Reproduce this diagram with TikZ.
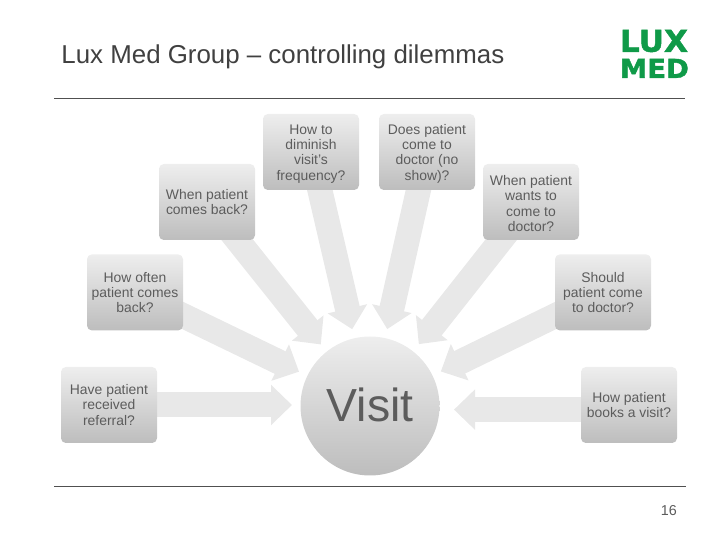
\documentclass[tikz,border=0pt]{standalone}
\usepackage{fontspec}
\setmainfont{Liberation Sans}
\newfontfamily\logofont[FakeBold=1.5]{DejaVu Sans Bold}
\usepackage{xcolor}
\usetikzlibrary{arrows.meta, backgrounds}
\definecolor{rule-gray}{HTML}{505050}
\definecolor{label-gray}{HTML}{5C5C5C}
\definecolor{title-gray}{HTML}{404040}
\definecolor{arrow-gray}{HTML}{E8E8E8}
\definecolor{shade-top}{HTML}{EEEEEE}
\definecolor{shade-bottom}{HTML}{BDBDBD}
\definecolor{logo-green}{HTML}{0F9A48}
\newcommand{\firstline}{\rule{0pt}{9.5pt}}
\pgfdeclareverticalshading{visitfade}{100bp}{color(0bp)=(shade-bottom); color(25bp)=(shade-bottom); color(75bp)=(shade-top); color(100bp)=(shade-top)}
\tikzset{
  questionbox/.style={rectangle, rounded corners=0.12cm, minimum width=2.4cm, minimum height=1.9cm,
    inner sep=0pt, top color=shade-top, bottom color=shade-bottom, text=label-gray, align=center,
    font=\fontsize{9.9}{10.9}\selectfont},
  blockarrow/.style={draw=arrow-gray, line width=0.625cm, -{Triangle[width=0.98cm,length=0.525cm]}, shorten >=1.97cm}
}

\begin{document}
\begin{tikzpicture}
  \useasboundingbox (0,0) rectangle (18,13.5);
  \node[anchor=west, color=title-gray, inner sep=0pt, font=\fontsize{18.4}{20}\selectfont] (title) at (1.53,12.07) {Lux Med Group – controlling dilemmas};
  \node[text=logo-green, inner sep=0pt, font=\logofont] (lux) at (16.35,12.475) {\resizebox{1.7cm}{0.55cm}{LUX}};
  \node[text=logo-green, inner sep=0pt, font=\logofont] (med) at (16.36,11.79) {\resizebox{1.725cm}{0.475cm}{MED}};
  % rules
  \coordinate (topleft) at (1.35,11.03);
  \coordinate (topright) at (17.13,11.03);
  \coordinate (botleft) at (1.35,1.35);
  \coordinate (botright) at (17.15,1.35);
  \draw[color=rule-gray, line width=0.6pt] (topleft) -- (topright);
  \draw[color=rule-gray, line width=0.6pt] (botleft) -- (botright);
  % questions
  \node[questionbox] (whenback) at (5.175,8.45) {When patient\\comes back?};
  \node[questionbox] (diminish) at (7.775,9.7) {\firstline How to\\diminish\\visit's\\frequency?};
  \node[questionbox] (noshow) at (10.675,9.7) {\firstline Does patient\\come to\\doctor (no\\show)?};
  \node[questionbox] (wants) at (13.275,8.45) {\firstline When patient\\wants to\\come to\\doctor?};
  \node[questionbox] (often) at (3.375,6.19) {How often\\patient comes\\back?};
  \node[questionbox] (should) at (15.075,6.19) {Should\\patient come\\to doctor?};
  \node[questionbox] (referral) at (2.725,3.375) {Have patient\\received\\referral?};
  \node[questionbox] (books) at (15.725,3.375) {How patient\\books a visit?};
  \node[circle, minimum size=3.475cm, inner sep=0pt, shading=visitfade] (visit) at (9.25,3.35) {};
  \node[text=label-gray, inner sep=0pt, font=\fontsize{33}{36}\selectfont] (visitlabel) at (9.25,3.37) {Visit};
  \node[anchor=east, color=label-gray, inner sep=0pt, font=\fontsize{10.2}{12}\selectfont] (page) at (16.93,0.73) {16};
  % arrows go under the boxes
  \coordinate (booksout) at (15.725,3.26);
  \coordinate (booksin) at (9.25,3.26);
  \coordinate (referralin) at (9.25,3.375);
  \begin{pgfonlayer}{background}
    \draw[blockarrow] (whenback.center) -- (visit.center);
    \draw[blockarrow] (diminish.center) -- (visit.center);
    \draw[blockarrow] (noshow.center) -- (visit.center);
    \draw[blockarrow] (wants.center) -- (visit.center);
    \draw[blockarrow] (often.center) -- (visit.center);
    \draw[blockarrow] (should.center) -- (visit.center);
    \draw[blockarrow, shorten >=1.95cm] (referral.center) -- (referralin);
    \draw[blockarrow, shorten >=2.1cm] (booksout) -- (booksin);
  \end{pgfonlayer}
\end{tikzpicture}
\end{document}
